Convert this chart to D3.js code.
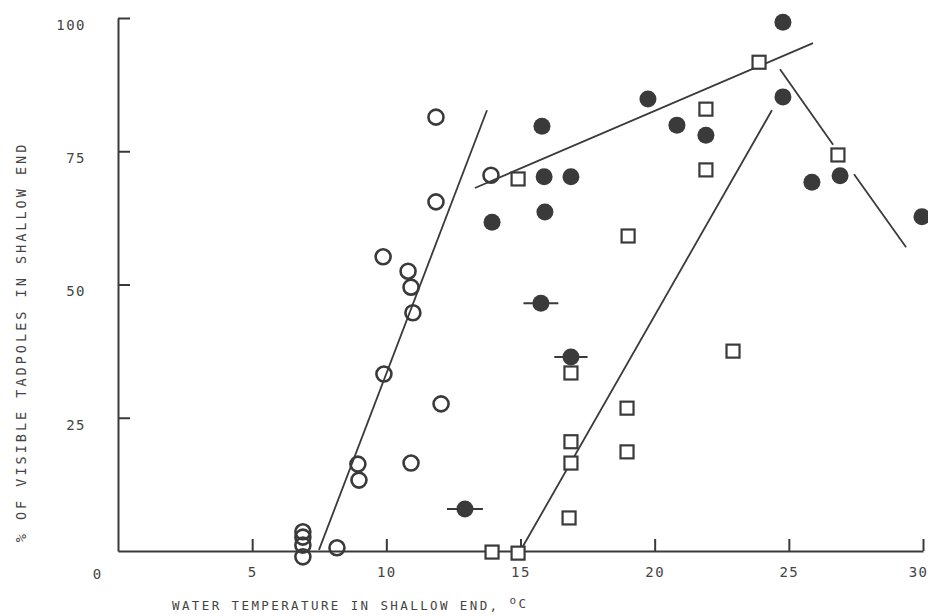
<!DOCTYPE html>
<html>
<head>
<meta charset="utf-8">
<script src="https://cdn.jsdelivr.net/npm/d3@7"></script>
<style>
  body { margin: 0; background: #fff; }
  svg text { font-family: "DejaVu Sans Mono", monospace; fill: #444; }
</style>
</head>
<body>
<div id="chart"></div>
<script>
  'use strict';

  // open circles
  const openX = [6.89, 6.89, 6.89, 6.89, 8.16, 8.94, 8.98, 9.88, 9.91, 10.81, 10.92, 10.99, 10.92, 11.85, 11.85, 12.04, 13.9];
  const openY = [3.6, 2.6, 1.1, -1.1, 0.6, 16.3, 13.3, 55.2, 33.2, 52.5, 49.5, 44.7, 16.5, 81.4, 65.5, 27.6, 70.5];

  // filled circles
  const filledX = [24.78, 24.78, 19.75, 15.8, 20.83, 21.91, 15.88, 16.88, 13.94, 15.91, 25.86, 26.91, 29.96];
  const filledY = [99.2, 85.2, 84.8, 79.7, 79.9, 78.0, 70.2, 70.2, 61.7, 63.6, 69.2, 70.4, 62.7];

  // filled circles with horizontal bars
  const barX = [15.76, 16.88, 12.93];
  const barY = [46.5, 36.4, 7.9];
  const barErr = [0.65, 0.62, 0.67];

  // open squares
  const squareX = [23.89, 21.91, 21.91, 19.01, 14.91, 26.83, 22.92, 16.88, 18.97, 18.97, 16.88, 16.88, 16.81, 13.94, 14.91];
  const squareY = [91.7, 82.9, 71.5, 59.1, 69.8, 74.3, 37.5, 33.4, 26.8, 18.6, 20.5, 16.5, 6.2, -0.2, -0.4];

  // fitted lines [x1, y1, x2, y2]
  const fitLines = [
    [7.49, 0.2, 13.75, 82.7],
    [13.3, 68.1, 25.9, 95.3],
    [15.06, 0.6, 24.37, 82.7],
    [24.67, 90.4, 26.65, 76.2],
    [27.43, 70.7, 29.37, 57.0]
  ];

  const xTicks = [5, 10, 15, 20, 25, 30];
  const yTicks = [25, 50, 75, 100];

  const width = 928, height = 616;
  const ink = "#3a3a3a";

  const x = d3.scaleLinear().domain([0, 30]).range([118, 923]);
  const y = d3.scaleLinear().domain([0, 100]).range([551, 18]);

  const svg = d3.select("#chart").append("svg")
    .attr("width", width)
    .attr("height", height);

  // axes, ticks pointing inward
  const xAxis = d3.axisBottom(x)
    .tickValues(xTicks)
    .tickSizeInner(-12)
    .tickSizeOuter(0)
    .tickPadding(16)
    .tickFormat(d3.format("d"));

  const yAxis = d3.axisLeft(y)
    .tickValues(yTicks)
    .tickSizeInner(-12)
    .tickSizeOuter(0)
    .tickPadding(32)
    .tickFormat(d3.format("d"));

  const gx = svg.append("g")
    .attr("transform", "translate(0," + y(0) + ")")
    .call(xAxis);

  const gy = svg.append("g")
    .attr("transform", "translate(" + x(0) + ",0)")
    .call(yAxis);

  [gx, gy].forEach(g => {
    g.select(".domain").attr("stroke", ink).attr("stroke-width", 2);
    g.selectAll(".tick line").attr("stroke", ink).attr("stroke-width", 2);
    g.selectAll(".tick text")
      .attr("font-size", 14)
      .attr("letter-spacing", 1.5)
      .attr("fill", "#444");
  });
  gy.selectAll(".tick text").attr("transform", "translate(0,7)");
  // keep the last label inside the frame
  gx.selectAll(".tick text").filter(d => d === 30)
    .attr("text-anchor", "end")
    .attr("dx", 5);

  svg.append("text")
    .attr("x", x(0) - 21)
    .attr("y", y(0) + 28)
    .attr("text-anchor", "middle")
    .attr("font-size", 14)
    .text("0");

  // axis titles
  svg.append("text")
    .attr("transform", "translate(22," + 342 + ") rotate(-90)")
    .attr("text-anchor", "middle")
    .attr("dominant-baseline", "middle")
    .attr("font-size", 13.5)
    .attr("letter-spacing", 3)
    .text("% OF VISIBLE TADPOLES IN SHALLOW END");

  const xt = svg.append("text")
    .attr("x", 172)
    .attr("y", 610)
    .attr("font-size", 12.5)
    .attr("letter-spacing", 2.4)
    .text("WATER TEMPERATURE IN SHALLOW END, ");
  xt.append("tspan").attr("dy", -6).attr("font-size", 11).text("o");
  xt.append("tspan").attr("dy", 4).text("C");

  // fitted lines
  svg.append("g").selectAll("line")
    .data(fitLines)
    .join("line")
    .attr("x1", d => x(d[0]))
    .attr("y1", d => y(d[1]))
    .attr("x2", d => x(d[2]))
    .attr("y2", d => y(d[3]))
    .attr("stroke", ink)
    .attr("stroke-width", 1.8);

  // horizontal bars
  svg.append("g").selectAll("line")
    .data(barX.map((v, i) => ({ x: v, y: barY[i], e: barErr[i] })))
    .join("line")
    .attr("x1", d => x(d.x - d.e))
    .attr("x2", d => x(d.x + d.e))
    .attr("y1", d => y(d.y))
    .attr("y2", d => y(d.y))
    .attr("stroke", ink)
    .attr("stroke-width", 2);

  // open circles
  svg.append("g").selectAll("circle")
    .data(openX.map((v, i) => ({ x: v, y: openY[i] })))
    .join("circle")
    .attr("cx", d => x(d.x))
    .attr("cy", d => y(d.y))
    .attr("r", 7.5)
    .attr("fill", "none")
    .attr("stroke", ink)
    .attr("stroke-width", 2.6);

  // filled circles
  svg.append("g").selectAll("circle")
    .data(filledX.map((v, i) => ({ x: v, y: filledY[i] }))
      .concat(barX.map((v, i) => ({ x: v, y: barY[i] }))))
    .join("circle")
    .attr("cx", d => x(d.x))
    .attr("cy", d => y(d.y))
    .attr("r", 8.5)
    .attr("fill", ink);

  // open squares
  const side = 13;
  svg.append("g").selectAll("rect")
    .data(squareX.map((v, i) => ({ x: v, y: squareY[i] })))
    .join("rect")
    .attr("x", d => x(d.x) - side / 2)
    .attr("y", d => y(d.y) - side / 2)
    .attr("width", side)
    .attr("height", side)
    .attr("fill", "#fff")
    .attr("stroke", ink)
    .attr("stroke-width", 2.2);
</script>
</body>
</html>
